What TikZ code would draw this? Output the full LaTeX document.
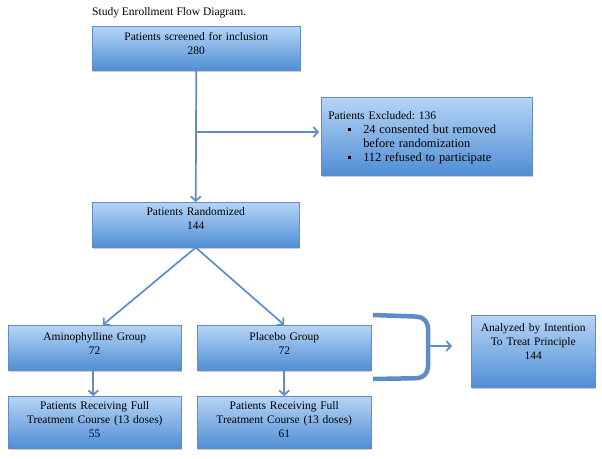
\documentclass[tikz,border=0pt]{standalone}
\usepackage{fontspec}
\setmainfont{Liberation Serif}
\usetikzlibrary{arrows.meta,shadows}
\definecolor{boxtop}{RGB}{182,213,246}
\definecolor{boxbot}{RGB}{80,142,213}
\definecolor{boxline}{RGB}{98,140,194}
\definecolor{linkblue}{RGB}{94,140,200}
\tikzset{
  flowbox/.style={draw=boxline, line width=0.5pt, top color=boxtop, bottom color=boxbot,
    drop shadow={shadow xshift=1.2pt, shadow yshift=-1.8pt, opacity=0.4},
    inner xsep=0pt, inner ysep=0pt, align=center, anchor=north west,
    font=\fontsize{11.5}{14}\selectfont},
  link/.style={draw=linkblue, line width=1.7pt, -{Straight Barb[length=4.5pt,width=10pt,line width=1.7pt]}}
}
\newcommand{\sqbullet}{\makebox[15pt][l]{\rule[2.2pt]{3pt}{3pt}}}
\newcommand{\bulletfont}{\fontsize{12.4}{14}\selectfont}
\begin{document}
\begin{tikzpicture}[x=1pt,y=-1pt]
\useasboundingbox (0,0) rectangle (602,458);

% title
\node[anchor=base west, inner sep=0pt, font=\fontsize{11.5}{14}\selectfont] (ttl) at (92,15) {Study Enrollment Flow Diagram.};

% boxes
\node[flowbox, text width=208pt, text height=14pt, text depth=30pt] (scr) at (92,26) {Patients screened for inclusion\\280};
\node[flowbox, align=left, inner xsep=7pt, text width=197pt, text height=22pt, text depth=56pt] (exc) at (321,97)
  {Patients Excluded:\ 136\\
   \hspace*{20pt}\sqbullet{\bulletfont 24 consented but removed}\\
   \hspace*{35pt}{\bulletfont before randomization}\\
   \hspace*{20pt}\sqbullet{\bulletfont 112 refused to participate}};
\node[flowbox, text width=207pt, text height=13pt, text depth=32pt] (rnd) at (92,202) {Patients Randomized\\144};
\node[flowbox, text width=173pt, text height=15pt, text depth=30pt] (ami) at (8,325) {Aminophylline Group\\72};
\node[flowbox, text width=174pt, text height=15pt, text depth=30pt] (plc) at (197,325) {Placebo Group\\72};
\node[flowbox, text width=173pt, text height=13pt, text depth=39pt] (amf) at (8,396) {Patients Receiving Full\\Treatment Course (13 doses)\\55};
\node[flowbox, text width=174pt, text height=13pt, text depth=39pt] (plf) at (197,396) {Patients Receiving Full\\Treatment Course (13 doses)\\61};
\node[flowbox, text width=124pt, text height=16pt, text depth=56pt] (ana) at (471,315) {Analyzed by Intention\\To Treat Principle\\144};

% connectors
\coordinate (split) at (scr.south |- 0,132);
\draw[link] (scr.south) -- (rnd.north);
\draw[link, shorten >=2pt] (split) -- (split -| exc.west);
\draw[link] (rnd.south) -- ([xshift=8pt]ami.north);
\draw[link] (rnd.south) -- (plc.north);
\draw[link] ([xshift=-1.5pt]ami.south) -- ([xshift=-1.5pt]amf.north);
\draw[link] (plc.south) -- (plf.north);

% bracket
\draw[linkblue, line width=4.5pt, rounded corners=11pt] (373,315) -- (428,317) -- (428,378) -- (373,379);
\coordinate (brk) at (428,346);
\draw[link, shorten >=19pt] (brk) -- (brk -| ana.west);
\end{tikzpicture}
\end{document}
